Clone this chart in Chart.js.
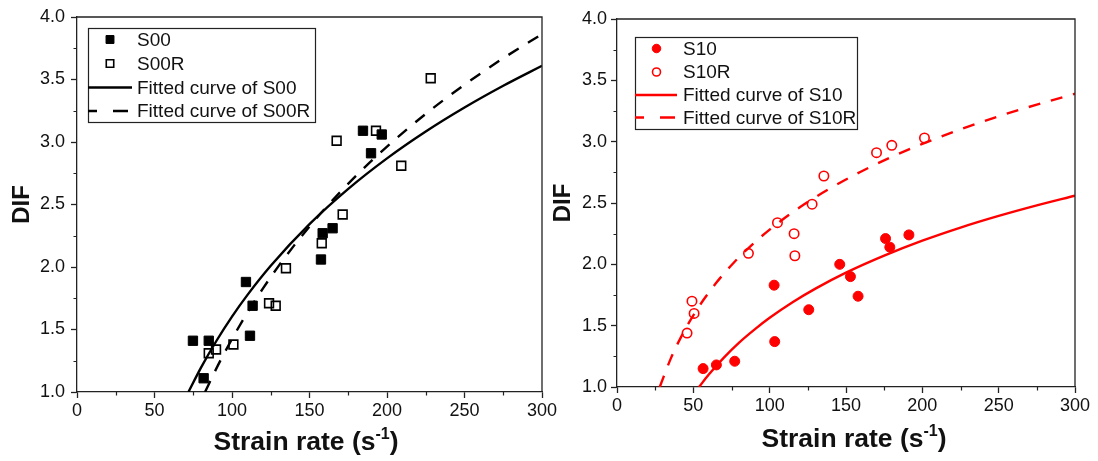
<!DOCTYPE html>
<html>
<head>
<meta charset="utf-8">
<script src="https://cdn.jsdelivr.net/npm/chart.js@4.4.1/dist/chart.umd.min.js"></script>
<style>
  html, body { margin: 0; padding: 0; background: #fff; }
  #wrap { position: relative; width: 1098px; height: 461px; overflow: hidden; background: #fff; }
  #c1 { position: absolute; left: 0; top: 0; }
  #c2 { position: absolute; left: 550px; top: 0; }
</style>
</head>
<body>
<div id="wrap">
  <canvas id="c1" width="570" height="461"></canvas>
  <canvas id="c2" width="548" height="461"></canvas>
</div>
<script>
// ---- Measured DIF values (strain rate in 1/s) ----
const s00Rate  = [74.8, 85.0, 81.7, 109.0, 113.3, 111.6, 157.4, 158.5, 164.9, 184.5, 196.6, 189.7];
const s00Dif   = [1.41, 1.41, 1.11, 1.88, 1.69, 1.45, 2.06, 2.27, 2.31, 3.09, 3.06, 2.91];
const s00rRate = [85.0, 89.7, 100.9, 123.9, 128.2, 134.8, 157.9, 171.4, 167.5, 192.9, 209.2, 228.2];
const s00rDif  = [1.31, 1.34, 1.38, 1.71, 1.69, 1.99, 2.19, 2.42, 3.01, 3.09, 2.81, 3.51];

const s10Rate  = [56.4, 65.1, 77.1, 102.9, 103.3, 125.6, 145.9, 152.9, 157.9, 175.9, 178.7, 191.2];
const s10Dif   = [1.15, 1.18, 1.21, 1.83, 1.37, 1.63, 2.00, 1.90, 1.74, 2.21, 2.14, 2.24];
const s10rRate = [45.9, 50.5, 49.1, 86.1, 105.1, 116.0, 116.5, 127.8, 135.5, 170.0, 180.0, 201.4];
const s10rDif  = [1.44, 1.60, 1.70, 2.09, 2.34, 2.25, 2.07, 2.49, 2.72, 2.91, 2.97, 3.03];

// ---- Fitted curves, sampled along the strain-rate axis ----
const fitS00Rate  = [71.9, 80, 90, 100, 110, 125, 150, 175, 200, 225, 250, 275, 300];
const fitS00Dif   = [1.000, 1.195, 1.410, 1.603, 1.777, 2.010, 2.343, 2.625, 2.869, 3.084, 3.276, 3.450, 3.610];
const fitS00RRate = [82.6, 91, 100, 110, 120, 130, 140, 150, 160, 180, 200, 225, 250, 275, 300];
const fitS00RDif  = [1.000, 1.215, 1.424, 1.636, 1.829, 2.007, 2.171, 2.324, 2.468, 2.729, 2.963, 3.225, 3.458, 3.670, 3.863];

const fitS10Rate  = [53.7, 60, 70, 80, 90, 100, 115, 130, 150, 175, 200, 225, 250, 275, 300];
const fitS10Dif   = [1.000, 1.100, 1.240, 1.362, 1.468, 1.564, 1.691, 1.802, 1.932, 2.071, 2.193, 2.300, 2.395, 2.481, 2.560];
const fitS10RRate = [28, 35, 42, 52, 65, 76, 87, 100, 120, 140, 160, 180, 200, 225, 250, 275, 300];
const fitS10RDif  = [1.000, 1.225, 1.409, 1.624, 1.849, 2.007, 2.143, 2.283, 2.467, 2.622, 2.757, 2.876, 2.982, 3.101, 3.207, 3.302, 3.391];

// ---- Axis ticks ----
const xMajorStep = 50;
const yMajorStep = 0.5;
const xMinorTicks = [25, 75, 125, 175, 225, 275];
const yMinorTicks = [1.25, 1.75, 2.25, 2.75, 3.25, 3.75];

const FONT = '"Liberation Sans", Arial, Helvetica, sans-serif';
const INK = '#111';
const AXIS = '#222';
const RED = '#ff0000';

const pair = (xs, ys) => xs.map((x, i) => ({ x: x, y: ys[i] }));

// Box frame, minor ticks, axis titles and the boxed legend
const decorPlugin = {
  id: 'decor',
  afterDraw(chart, args, o) {
    const ctx = chart.ctx;
    const a = chart.chartArea;
    const sx = chart.scales.x, sy = chart.scales.y;
    ctx.save();

    // closing top and right edges of the frame
    ctx.strokeStyle = AXIS;
    ctx.lineWidth = 1.3;
    ctx.beginPath();
    ctx.moveTo(a.left, a.top);
    ctx.lineTo(a.right, a.top);
    ctx.lineTo(a.right, a.bottom);
    ctx.stroke();

    // minor ticks
    ctx.lineWidth = 1.2;
    ctx.beginPath();
    xMinorTicks.forEach(v => {
      const px = Math.round(sx.getPixelForValue(v)) + 0.5;
      ctx.moveTo(px, a.bottom); ctx.lineTo(px, a.bottom + 3.5);
    });
    yMinorTicks.forEach(v => {
      const py = Math.round(sy.getPixelForValue(v)) + 0.5;
      ctx.moveTo(a.left, py); ctx.lineTo(a.left - 3.5, py);
    });
    ctx.stroke();

    // x title with superscript exponent
    ctx.fillStyle = INK;
    ctx.textAlign = 'left';
    ctx.textBaseline = 'alphabetic';
    const big = 'bold 26.5px ' + FONT, small = 'bold 16px ' + FONT;
    const t1 = 'Strain rate (s', t2 = '-1', t3 = ')';
    ctx.font = big;
    const w1 = ctx.measureText(t1).width, w3 = ctx.measureText(t3).width;
    ctx.font = small;
    const w2 = ctx.measureText(t2).width;
    let tx = o.xTitleX - (w1 + w2 + w3) / 2;
    const ty = o.xTitleBaseline;
    ctx.font = big; ctx.fillText(t1, tx, ty); tx += w1;
    ctx.font = small; ctx.fillText(t2, tx, ty - 11); tx += w2;
    ctx.font = big; ctx.fillText(t3, tx, ty);

    // y title
    ctx.save();
    ctx.translate(o.yTitleX, (a.top + a.bottom) / 2);
    ctx.rotate(-Math.PI / 2);
    ctx.textAlign = 'center';
    ctx.textBaseline = 'middle';
    ctx.font = 'bold 24px ' + FONT;
    ctx.fillText('DIF', 0, 0);
    ctx.restore();

    // legend
    const L = o.legend;
    ctx.fillStyle = '#fff';
    ctx.fillRect(L.x1, L.y1, L.x2 - L.x1, L.y2 - L.y1);
    ctx.strokeStyle = AXIS;
    ctx.lineWidth = 1.2;
    ctx.strokeRect(L.x1 + 0.5, L.y1 + 0.5, L.x2 - L.x1, L.y2 - L.y1);
    chart.data.datasets.forEach((ds, i) => {
      const y = L.rows[i];
      if (ds.showLine) {
        ctx.strokeStyle = ds.borderColor;
        ctx.lineWidth = ds.borderWidth;
        ctx.setLineDash([]);
        ctx.beginPath();
        if (ds.borderDash && ds.borderDash.length) {
          ctx.moveTo(L.lineX1, y); ctx.lineTo(L.lineX1 + 9, y);
          ctx.moveTo(L.lineX1 + 25, y); ctx.lineTo(L.lineX1 + 40, y);
        } else {
          ctx.moveTo(L.lineX1, y); ctx.lineTo(L.lineX2, y);
        }
        ctx.stroke();
      } else {
        ctx.fillStyle = ds.backgroundColor;
        ctx.strokeStyle = ds.borderColor;
        ctx.lineWidth = ds.borderWidth;
        ctx.setLineDash([]);
        Chart.helpers.drawPoint(ctx, {
          pointStyle: ds.pointStyle, rotation: 0,
          radius: ds.pointRadius * 0.85, borderWidth: ds.borderWidth
        }, L.markerX, y);
      }
      ctx.fillStyle = INK;
      ctx.font = '19px ' + FONT;
      ctx.textAlign = 'left';
      ctx.textBaseline = 'middle';
      ctx.fillText(ds.label, L.textX, y + 1);
    });
    ctx.restore();
  }
};

function scatterSet(label, xs, ys, style, color, filled, radius) {
  return {
    label: label, data: pair(xs, ys), showLine: false, order: 1,
    pointStyle: style, pointRadius: radius,
    backgroundColor: filled ? color : 'rgba(0,0,0,0)',
    borderColor: color, borderWidth: filled ? 1 : 1.6
  };
}

function curveSet(label, xs, ys, color, dashed) {
  return {
    label: label, data: pair(xs, ys), showLine: true, order: 2,
    pointRadius: 0, borderColor: color, backgroundColor: color,
    borderWidth: 2.4, borderDash: dashed ? [12, 11] : [],
    cubicInterpolationMode: 'monotone', fill: false
  };
}

function buildChart(canvas, datasets, geo) {
  return new Chart(canvas, {
    type: 'scatter',
    data: { datasets: datasets },
    options: {
      responsive: false,
      animation: false,
      devicePixelRatio: 1,
      events: [],
      layout: { padding: geo.padding },
      plugins: { legend: { display: false }, tooltip: { enabled: false }, decor: geo.decor },
      scales: {
        x: {
          type: 'linear', min: 0, max: 300,
          ticks: { stepSize: xMajorStep, color: INK, font: { family: FONT, size: 18 }, padding: 2, maxRotation: 0 },
          grid: { drawOnChartArea: false, drawTicks: true, tickLength: 6, color: AXIS, tickWidth: 1.3 },
          border: { display: true, color: AXIS, width: 1.3 },
          afterFit: s => { s.height = geo.xAxisHeight; }
        },
        y: {
          type: 'linear', min: 1, max: 4,
          ticks: { stepSize: yMajorStep, color: INK, font: { family: FONT, size: 18 }, padding: geo.yTickPad,
                   callback: v => Number(v).toFixed(1) },
          grid: { drawOnChartArea: false, drawTicks: true, tickLength: 6, color: AXIS, tickWidth: 1.3 },
          border: { display: true, color: AXIS, width: 1.3 },
          afterFit: s => { s.width = geo.yAxisWidth; }
        }
      }
    },
    plugins: [decorPlugin]
  });
}

// Plain (S00) specimens
buildChart(document.getElementById('c1'), [
  scatterSet('S00', s00Rate, s00Dif, 'rect', '#000', true, 6.6),
  scatterSet('S00R', s00rRate, s00rDif, 'rect', '#000', false, 6.2),
  curveSet('Fitted curve of S00', fitS00Rate, fitS00Dif, '#000', false),
  curveSet('Fitted curve of S00R', fitS00RRate, fitS00RDif, '#000', true)
], {
  padding: { left: 0, top: 17, right: 28, bottom: 0 },
  yAxisWidth: 77, xAxisHeight: 69, yTickPad: 6,
  decor: {
    xTitleX: 306, xTitleBaseline: 450, yTitleX: 22,
    legend: { x1: 88, y1: 28, x2: 315, y2: 122, rows: [39.5, 63.5, 87.5, 111],
              markerX: 110, lineX1: 88, lineX2: 132, textX: 137 }
  }
});

// Fibre-reinforced (S10) specimens
buildChart(document.getElementById('c2'), [
  scatterSet('S10', s10Rate, s10Dif, 'circle', RED, true, 5),
  scatterSet('S10R', s10rRate, s10rDif, 'circle', RED, false, 4.7),
  curveSet('Fitted curve of S10', fitS10Rate, fitS10Dif, RED, false),
  curveSet('Fitted curve of S10R', fitS10RRate, fitS10RDif, RED, true)
], {
  padding: { left: 0, top: 19, right: 23, bottom: 0 },
  yAxisWidth: 67, xAxisHeight: 74, yTickPad: 4,
  decor: {
    xTitleX: 304, xTitleBaseline: 447, yTitleX: 13,
    legend: { x1: 85, y1: 37, x2: 307, y2: 129, rows: [48.5, 72, 95, 117.5],
              markerX: 106.5, lineX1: 85, lineX2: 127, textX: 133 }
  }
});
</script>
</body>
</html>
